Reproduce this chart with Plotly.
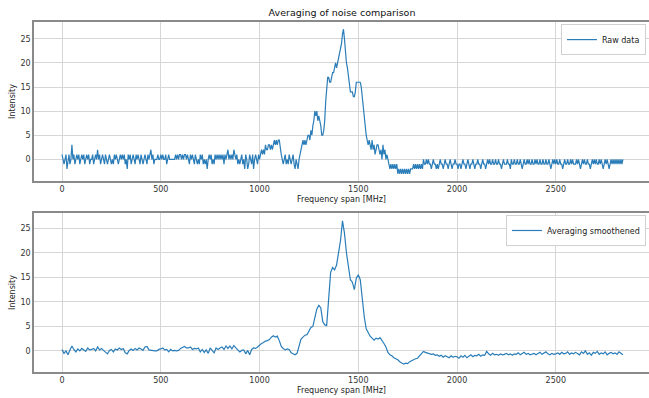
import plotly.graph_objects as go

# Raw data: 5 MHz steps; smoothed: 10 MHz steps
freq_raw = list(range(0, 2845, 5))
freq_smooth = list(range(0, 2850, 10))

raw_data = [
    1, 0, -1, 0, 1, -2, 0, 1, -1, 0, 3, 0, 1, -1, 0, 1, 0, 1, -1, 0,
    1, 0, 1, -1, 0, 1, 0, 1, -1, 0, 0, 1, -1, 0, 1, 0, 2, 0, 1, -1,
    0, 1, 0, -1, 1, 0, -1, 0, 1, 0, -1, 0, -1, 1, 0, 1, 0, -1, 0, 1,
    0, 1, 0, 1, -1, 0, -2, 1, 0, 1, -1, 0, 1, 0, -1, 1, 0, 1, 0, -1,
    1, 0, -1, 0, 1, 0, -1, 1, 0, 1, 2, 0, 1, -1, 0, 0, 0, 1, 0, 0,
    1, 0, 1, 0, 0, 1, -1, 0, 1, 0, 0, 0, 0, 0, 0, 1, 0, 1, 0, 1,
    1, 0, 1, 0, 1, 1, 0, 1, 0, -1, 1, 0, 1, 0, -1, 1, 0, -1, 0, -1,
    1, 0, 1, -1, 0, -1, 0, -2, 0, 1, 0, 1, -1, 0, -1, 1, 0, 1, 0, 1,
    0, 1, 0, 1, -1, 1, 0, 1, 2, 0, 1, 0, 1, 0, 2, 1, 0, 1, -1, 0,
    -1, 0, 1, -1, 0, -2, 1, 0, -2, -1, 1, 0, -1, 1, -2, 0, 1, 0, -1, 1,
    0, 1, 2, 1, 2, 1, 3, 2, 2, 3, 3, 2, 3, 2, 3, 4, 3, 4, 3, 4,
    4, 2, 1, 0, -1, 0, 1, -1, 0, -1, 1, 0, -1, 0, 1, -1, -2, 0, -1, -2,
    0, 1, 2, 3, 4, 3, 4, 3, 4, 5, 5, 4, 6, 5, 7, 8, 10, 9, 10, 8,
    9, 8, 7, 5, 5, 6, 8, 12, 16, 17, 17, 16, 16, 17, 18, 18, 19, 20, 19, 20,
    21, 22, 23, 24, 26, 27, 25, 22, 20, 19, 17, 15, 14, 14, 14, 13, 13, 14, 16, 16,
    16, 16, 16, 15, 13, 11, 9, 6, 5, 4, 3, 4, 3, 2, 4, 2, 3, 1, 2, 3,
    3, 2, 1, 2, 0, 3, 1, 2, 0, 1, 0, -1, -2, -1, -2, -1, -2, -1, -2, -1,
    -3, -2, -3, -2, -3, -2, -3, -2, -3, -2, -3, -2, -3, -2, -2, -2, -1, -2, -1, -2,
    -1, -2, -1, -2, -1, -2, 0, -1, -1, 0, -1, 0, -1, -1, -2, -1, 0, -1, -1, -2,
    -1, -2, -1, 0, -1, -1, -2, -1, 0, -1, -1, -2, -1, 0, -1, -2, -1, -1, 0, -1,
    -1, -2, -1, -1, -2, -1, 0, -1, -1, -2, -1, 0, -1, -2, -1, -1, 0, -1, -2, -1,
    -1, 0, -1, -1, -2, -1, 0, -1, -1, -2, -1, 0, -1, 0, -1, -1, 0, -1, -1, 0,
    -1, -1, 0, -1, -1, -2, -1, 0, -1, -1, -1, 0, -1, -1, -2, 0, -1, -1, 0, -1,
    -1, 0, -1, -1, 0, -1, -2, -1, 0, -1, -1, 0, -1, 0, -1, -1, 0, -1, -1, 0,
    -1, 0, -1, -1, 0, -1, -1, 0, -1, -1, 0, -1, -1, 0, -1, -2, -1, 0, -1, 0,
    -1, 0, -1, -1, 0, -1, -1, -2, -1, 0, -1, -1, 0, -1, -1, 0, -1, 0, -1, -1,
    -1, 0, -1, 0, -1, -2, -1, 0, -1, 0, -1, -1, 0, -1, -1, -2, -1, 0, -1, 0,
    -1, 0, -1, -1, 0, -1, 0, -1, -2, -1, 0, -1, 0, -1, -2, -1, 0, -1, 0, -1,
    0, -1, 0, -1, 0, -1, 0, -1, 0,
]

smoothed = [
    0.3, -0.5, 0.0, -0.8, 0.2, 1.0, 0.3, -0.2, 0.4, 0.0,
    0.5, 0.2, -0.1, 0.6, 0.2, 0.3, 0.5, 0.0, 0.8, 0.2,
    0.5, 0.1, -0.2, -0.6, 0.1, 0.3, -0.2, 0.4, 0.2, 0.6,
    0.3, 0.5, -0.4, -0.6, 0.1, 0.4, 0.1, 0.5, 0.2, 0.6,
    0.4, 0.1, 0.8, 0.9, 0.2, 0.1, 0.1, 0.0, 0.0, 0.3,
    0.4, 0.6, 0.2, 0.3, -0.2, 0.3, 0.0, 0.1, 0.0, 0.1,
    0.5, 0.7, 0.9, 0.6, 0.6, 0.8, 0.3, 0.5, 0.4, 0.6,
    -0.2, 0.3, -0.3, 0.2, -0.5, 0.6, 0.2, -0.4, 0.6, 0.3,
    0.6, 0.8, 0.3, 1.0, 0.5, 1.0, 0.4, 1.1, 0.6, 0.1,
    -0.2, 0.1, 0.2, -0.6, 0.1, -0.8, 0.3, 0.6, 0.5, 0.8,
    1.2, 1.5, 1.7, 2.0, 2.1, 2.3, 2.8, 3.1, 2.8, 3.0,
    2.1, 0.9, 0.5, 0.2, 0.4, 0.3, -0.4, -0.6, -0.8, -0.5,
    0.8, 2.4, 2.8, 3.2, 3.3, 4.2, 4.8, 5.0, 7.0, 8.5,
    9.3, 8.8, 6.0, 5.3, 5.2, 10.0, 16.0, 17.0, 16.5, 17.5,
    20.0, 22.5, 26.5, 24.0, 20.0, 17.0, 14.5, 14.0, 12.5, 14.8,
    15.5, 14.5, 10.5, 7.0, 4.5, 3.6, 3.0, 2.6, 2.2, 2.6,
    2.4, 2.7, 2.2, 1.5, 0.8, -0.3, -0.8, -1.0, -1.4, -1.6,
    -1.8, -2.2, -2.5, -2.7, -2.5, -2.6, -2.2, -2.0, -1.7, -1.6,
    -1.5, -1.1, -0.6, -0.1, -0.3, -0.4, -0.5, -0.7, -0.6, -0.9,
    -0.8, -1.1, -0.9, -1.3, -1.0, -1.2, -1.4, -1.0, -1.3, -1.1,
    -1.2, -1.5, -1.0, -1.3, -0.9, -1.4, -1.1, -0.8, -1.2, -0.9,
    -1.0, -0.7, -1.1, -0.8, -0.9, -0.1, -0.6, -0.9, -0.5, -0.8,
    -0.7, -0.9, -0.6, -0.8, -0.7, -0.5, -0.8, -0.6, -0.9, -0.6,
    -0.7, -0.4, -0.8, -0.6, -0.3, -0.7, -0.5, -0.8, -0.6, -0.5,
    -0.8, -0.6, -0.3, -0.7, -0.5, -0.2, -0.6, -0.8, -0.5, -0.7,
    -0.6, -0.4, -0.7, -0.3, -0.6, -0.5, -0.2, -0.7, -0.4, -0.6,
    -0.3, -0.6, -0.8, -0.2, -0.5, 0.0, -0.7, -0.4, -0.9, -0.3,
    -0.5, -0.1, -0.7, -0.4, -0.6, -0.2, -0.8, -0.5, -0.3, -0.6,
    -0.4, -0.7, -0.2, -0.5, -0.8,
]

x_ticks = [0, 500, 1000, 1500, 2000, 2500]
y_ticks = [0, 5, 10, 15, 20, 25]

LINE = "#2a7db8"
FONT = "DejaVu Sans"

fig = go.Figure()
fig.add_trace(go.Scatter(x=freq_raw, y=raw_data, mode="lines", name="Raw data",
                         line=dict(color=LINE, width=1.2), xaxis="x", yaxis="y",
                         legend="legend"))
fig.add_trace(go.Scatter(x=freq_smooth, y=smoothed, mode="lines", name="Averaging smoothened",
                         line=dict(color=LINE, width=1.2), xaxis="x2", yaxis="y2",
                         legend="legend2"))

common = dict(showgrid=True, gridcolor="#d6d6d6", gridwidth=1,
              showline=True, linecolor="#8a8a8a", linewidth=1.5,
              zeroline=False, ticks="", tickfont=dict(family=FONT, size=8, color="#333"))

fig.update_layout(
    width=649, height=398,
    margin=dict(l=34, r=0, t=22, b=26),
    paper_bgcolor="white", plot_bgcolor="white",
    font=dict(family=FONT, size=8, color="#222"),
    title=dict(text="Averaging of noise comparison", x=0.527, xanchor="center",
               y=0.967, yanchor="middle", font=dict(family=FONT, size=9.5, color="#111")),
    xaxis=dict(domain=[0, 1], anchor="y", range=[-142, 2972], tickvals=x_ticks, mirror=True,
               title=dict(text="Frequency span [MHz]", standoff=3, font=dict(size=8)),
               **common),
    yaxis=dict(domain=[0.5457, 1], anchor="x", range=[-4.5, 28.5], tickvals=y_ticks,
               title=dict(text="Intensity", standoff=4, font=dict(size=8)), **common),
    xaxis2=dict(domain=[0, 1], anchor="y2", range=[-142, 2972], tickvals=x_ticks, mirror=True,
                title=dict(text="Frequency span [MHz]", standoff=3, font=dict(size=8)),
                **common),
    yaxis2=dict(domain=[0, 0.4543], anchor="x2", range=[-4.3, 28.1], tickvals=y_ticks,
                title=dict(text="Intensity", standoff=4, font=dict(size=8)), **common),
    legend=dict(x=0.995, y=0.994, xanchor="right", yanchor="top", bgcolor="white",
                bordercolor="#d0d0d0", borderwidth=1, font=dict(family=FONT, size=8),
                itemwidth=30, tracegroupgap=0),
    legend2=dict(x=0.995, y=0.4486, xanchor="right", yanchor="top", bgcolor="white",
                 bordercolor="#d0d0d0", borderwidth=1, font=dict(family=FONT, size=8),
                 itemwidth=30, tracegroupgap=0),
    showlegend=True,
)

fig.write_html("out.html")
